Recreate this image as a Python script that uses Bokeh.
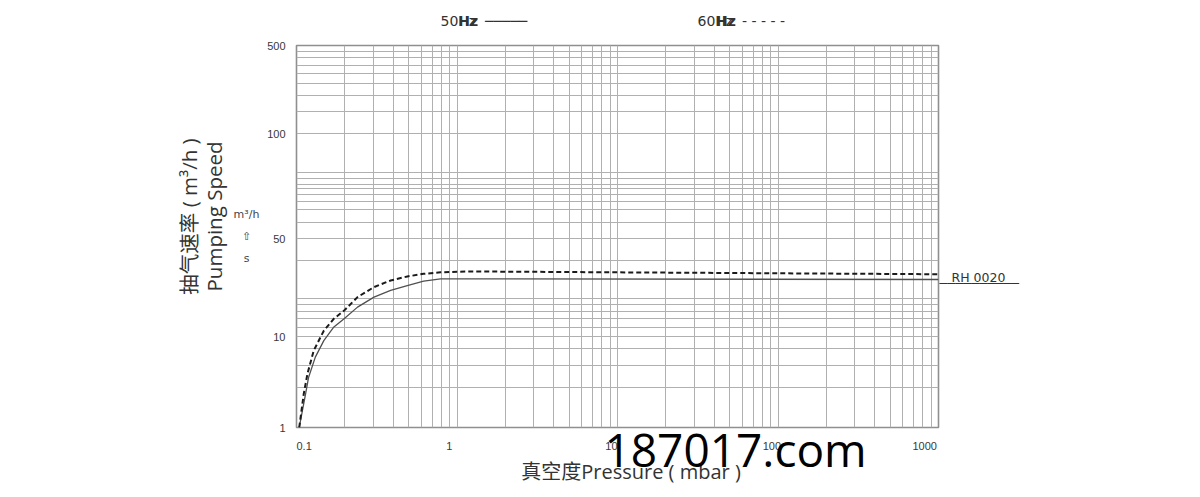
import math
import numpy as np
from bokeh.plotting import figure
from bokeh.models import Range1d, FixedTicker, Label, CustomJSTickFormatter
from bokeh.embed import file_html
from bokeh.resources import INLINE

# ---------------- data ----------------
pressure_50hz = [0.104, 0.114, 0.119, 0.131, 0.148, 0.171, 0.198, 0.24, 0.304,
                 0.386, 0.49, 0.62, 0.79, 1.22, 1000]
speed_50hz = [1.0, 2.35, 3.57, 5.93, 9.0, 11.7, 13.4, 16.2, 19.1,
              21.3, 23.1, 24.8, 25.8, 25.8, 25.5]

pressure_60hz = [0.104, 0.111, 0.117, 0.128, 0.148, 0.171, 0.198, 0.24, 0.304,
                 0.386, 0.49, 0.62, 0.79, 1.22, 1000]
speed_60hz = [1.0, 2.35, 3.89, 7.0, 11.0, 13.4, 15.3, 19.1, 22.5,
              25.1, 26.8, 28.0, 28.7, 29.1, 27.8]

x_tick_values = [0.1, 1, 10, 100, 1000]
x_tick_labels = ["0.1", "1", "10", "100", "1000"]
y_tick_values = [1, 10, 50, 100, 500]
y_tick_labels = ["1", "10", "50", "100", "500"]
# the chart's own (non-uniform) vertical scale: where each labelled value sits
y_tick_units = [0, 91, 189, 294, 382]

x_grid_values = [k * 10.0 ** e for e in range(-1, 3) for k in range(1, 10)] + [1000]
y_grid_values = [1, 2.77, 4.8, 7.33, 10, 11.65, 13.4, 15.1, 16.9, 18.6, 34.8, 50,
                 55.5, 60.5, 64, 67, 69.5, 71.5, 74.5, 77.5, 100,
                 150, 200, 250, 300, 350, 400, 450, 500]


def y_unit(v):
    """Piecewise-logarithmic mapping of the chart's vertical axis."""
    return float(np.interp(np.log10(v), np.log10(y_tick_values), y_tick_units))


# ---------------- figure ----------------
FRAME_L, FRAME_R, FRAME_T, FRAME_B = 296, 938, 45, 427
W, H = 1200, 497

p = figure(width=W, height=H, x_axis_type="log",
           x_range=Range1d(0.1, 1000), y_range=Range1d(0, y_tick_units[-1]),
           output_backend="svg", toolbar_location=None,
           min_border_left=FRAME_L, min_border_right=W - FRAME_R,
           min_border_top=FRAME_T, min_border_bottom=H - FRAME_B)
p.title.visible = False
p.background_fill_color = "white"
p.border_fill_color = "white"
p.outline_line_color = "#8f8f8f"
p.outline_line_width = 1.6

# grids
p.xgrid.ticker = FixedTicker(ticks=x_grid_values)
p.ygrid.ticker = FixedTicker(ticks=[y_unit(v) for v in y_grid_values])
for g in (p.xgrid, p.ygrid):
    g.grid_line_color = "#b0b0b0"
    g.grid_line_width = 1

# axes (the reference's x labels sit slightly off their grid lines: pad with
# no-break spaces, positive = shift right, negative = shift left)
x_label_shift = [5, -5, -4, -4, -9]
p.xaxis.ticker = FixedTicker(ticks=x_tick_values)
p.xaxis.formatter = CustomJSTickFormatter(
    args=dict(vals=x_tick_values, labels=x_tick_labels, shift=x_label_shift),
    code="""
    for (let i = 0; i < vals.length; i++) {
        if (Math.abs(Math.log10(tick) - Math.log10(vals[i])) < 1e-6) {
            const pad = "\\u00a0".repeat(Math.abs(shift[i]));
            return shift[i] > 0 ? pad + labels[i] : labels[i] + pad;
        }
    }
    return "";
    """)
p.yaxis.ticker = FixedTicker(ticks=[y_unit(v) for v in y_tick_values])
p.yaxis.formatter = CustomJSTickFormatter(
    args=dict(vals=[y_unit(v) for v in y_tick_values], labels=y_tick_labels),
    code="""
    for (let i = 0; i < vals.length; i++) {
        if (Math.abs(tick - vals[i]) < 1e-6) return labels[i];
    }
    return "";
    """)
for ax in (p.xaxis, p.yaxis):
    ax.axis_line_color = None
    ax.major_tick_line_color = None
    ax.minor_tick_line_color = None
    ax.major_label_text_font = "Liberation Sans"
    ax.major_label_text_font_size = "11px"
    ax.major_label_text_color = "#383838"
p.xaxis.major_label_standoff = 6
p.yaxis.major_label_standoff = 5

# curves
p.line(pressure_50hz, [y_unit(v) for v in speed_50hz],
       line_color="#505050", line_width=1.3)
p.line(pressure_60hz, [y_unit(v) for v in speed_60hz],
       line_color="#1a1a1a", line_width=2.0, line_dash="5 3")


# ---------------- texts outside the frame (placed in page pixels) ----------------
# Labels live in side panels (so they are not clipped to the frame); each panel
# only reserves the label's extent across it, so they are spread over the panels.
def X(px):
    return 10 ** ((px - FRAME_L) / (FRAME_R - FRAME_L) * 4 - 1)


def Y(py):
    return (FRAME_B - py) * y_tick_units[-1] / (FRAME_B - FRAME_T)


TXT = "#333333"


def add_text(side, px, py, text, font="DejaVu Sans", size="14px", style="normal",
             align="left", baseline="middle", angle=0.0, color=TXT, line_height=1.2):
    p.add_layout(Label(x=X(px), y=Y(py), text=text, text_font=font,
                       text_font_size=size, text_font_style=style,
                       text_color=color, text_align=align, text_line_height=line_height,
                       text_baseline=baseline, angle=angle), side)


NB = "\u00a0"

# legend at the top ("Hz" drawn bold on top)
add_text("above", 440, 20, "50Hz" + NB + NB + "─────")
add_text("above", 697, 20, "60Hz" + NB + NB + NB.join("-----"))
add_text("below", 457.8, 20, "Hz", style="bold")
add_text("right", 715.5, 20, "Hz", style="bold")

# model tag with its leader line
add_text("right", 951, 277, "RH 0020", size="12.5px")
add_text("right", 939, 282.8, "──────────", size="13.2px")

# unit hint left of the y axis
add_text("right", 246, 236, "m³/h\n⇧\ns", size="11px", align="center",
         line_height=1.73, color="#444444")

# y axis titles (two lines, rotated)
add_text("right", 201, 216, "抽气速率 ( m³/h )\nPumping Speed",
         font="'Open Sans', 'Noto Sans CJK SC'", size="20.5px",
         align="center", angle=math.pi / 2, line_height=0.91)

# x axis title
add_text("below", 630.5, 471, "真空度Pressure ( mbar )",
         font="'Open Sans', 'Noto Sans CJK SC'", size="20px", align="center")

# watermark
add_text("left", 604, 448, "187017.com", font="Open Sans", size="46px",
         baseline="alphabetic", color="#000000")

open("out.html", "w").write(file_html(p, INLINE))
